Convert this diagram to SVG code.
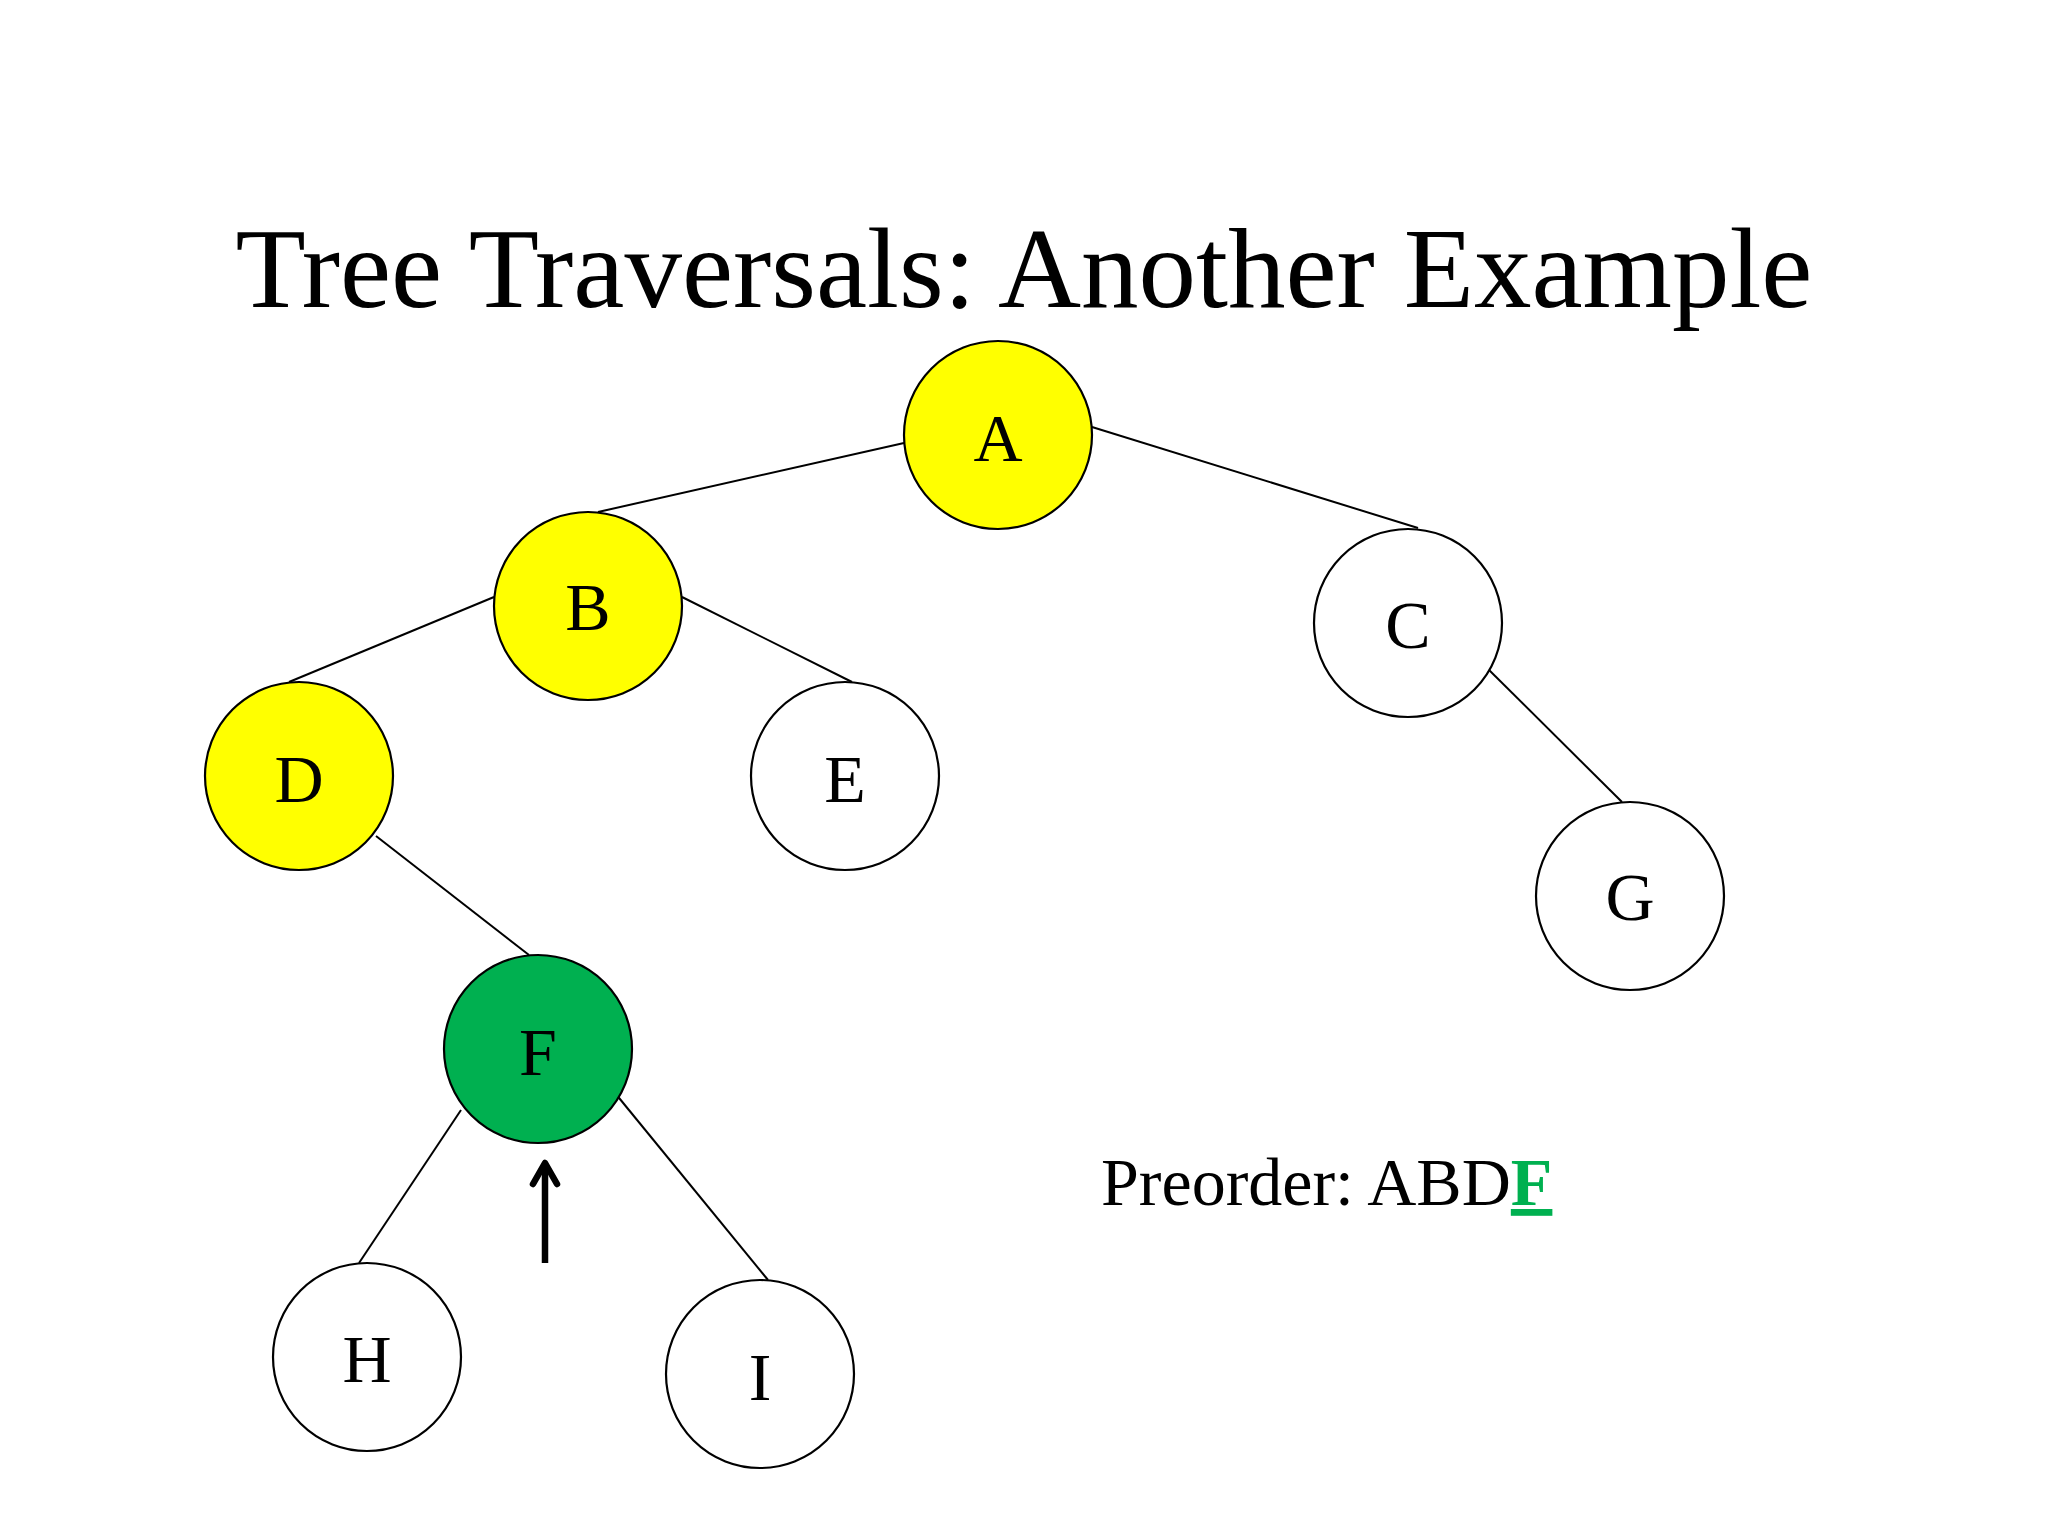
<svg xmlns="http://www.w3.org/2000/svg" width="2048" height="1536" viewBox="0 0 2048 1536">
<style>
.n{stroke:#000;stroke-width:2.2}
.y{fill:#FFFF00}
.w{fill:#FFFFFF}
.g{fill:#00B050}
.lbl{font-family:"Liberation Serif","Times New Roman",serif;font-size:68px;text-anchor:middle;fill:#000}
.edge{stroke:#000;stroke-width:2;fill:none}
</style>
<rect width="2048" height="1536" fill="#FFFFFF"/>
<text x="1024" y="307" font-family="Liberation Serif, Times New Roman, serif" font-size="115" text-anchor="middle" fill="#000">Tree Traversals: Another Example</text>
<g id="connectors">
<line class="edge" x1="904" y1="443" x2="598" y2="512"/>
<line class="edge" x1="1092" y1="427" x2="1418" y2="528"/>
<line class="edge" x1="494" y1="597" x2="289" y2="682"/>
<line class="edge" x1="682" y1="597" x2="852" y2="682"/>
<line class="edge" x1="1485" y1="666" x2="1622" y2="802"/>
<line class="edge" x1="376" y1="836" x2="529" y2="955"/>
<line class="edge" x1="461" y1="1110" x2="359" y2="1263"/>
<line class="edge" x1="615" y1="1093" x2="768" y2="1280"/>
</g>
<g id="node-A"><circle class="n y" cx="998" cy="435" r="94"/><text class="lbl" x="998" y="461">A</text></g>
<g id="node-B"><circle class="n y" cx="588" cy="606" r="94"/><text class="lbl" x="588" y="630">B</text></g>
<g id="node-C"><circle class="n w" cx="1408" cy="623" r="94"/><text class="lbl" x="1408" y="648">C</text></g>
<g id="node-D"><circle class="n y" cx="299" cy="776" r="94"/><text class="lbl" x="299" y="802">D</text></g>
<g id="node-E"><circle class="n w" cx="845" cy="776" r="94"/><text class="lbl" x="845" y="802">E</text></g>
<g id="node-F"><circle class="n g" cx="538" cy="1049" r="94"/><text class="lbl" x="538" y="1075">F</text></g>
<g id="node-G"><circle class="n w" cx="1630" cy="896" r="94"/><text class="lbl" x="1630" y="920">G</text></g>
<g id="node-H"><circle class="n w" cx="367" cy="1357" r="94"/><text class="lbl" x="367" y="1382">H</text></g>
<g id="node-I"><circle class="n w" cx="760" cy="1374" r="94"/><text class="lbl" x="760" y="1400">I</text></g>
<g id="pointer">
<line x1="545" y1="1263" x2="545" y2="1165" stroke="#000" stroke-width="6.5"/>
<polyline points="533,1184 545,1163 557,1184" fill="none" stroke="#000" stroke-width="6.5" stroke-linecap="round" stroke-linejoin="round"/>
</g>
<text x="1101" y="1205" font-family="Liberation Serif, Times New Roman, serif" font-size="68" fill="#000">Preorder: ABD<tspan fill="#00B050" font-weight="bold" text-decoration="underline">F</tspan></text>
</svg>
